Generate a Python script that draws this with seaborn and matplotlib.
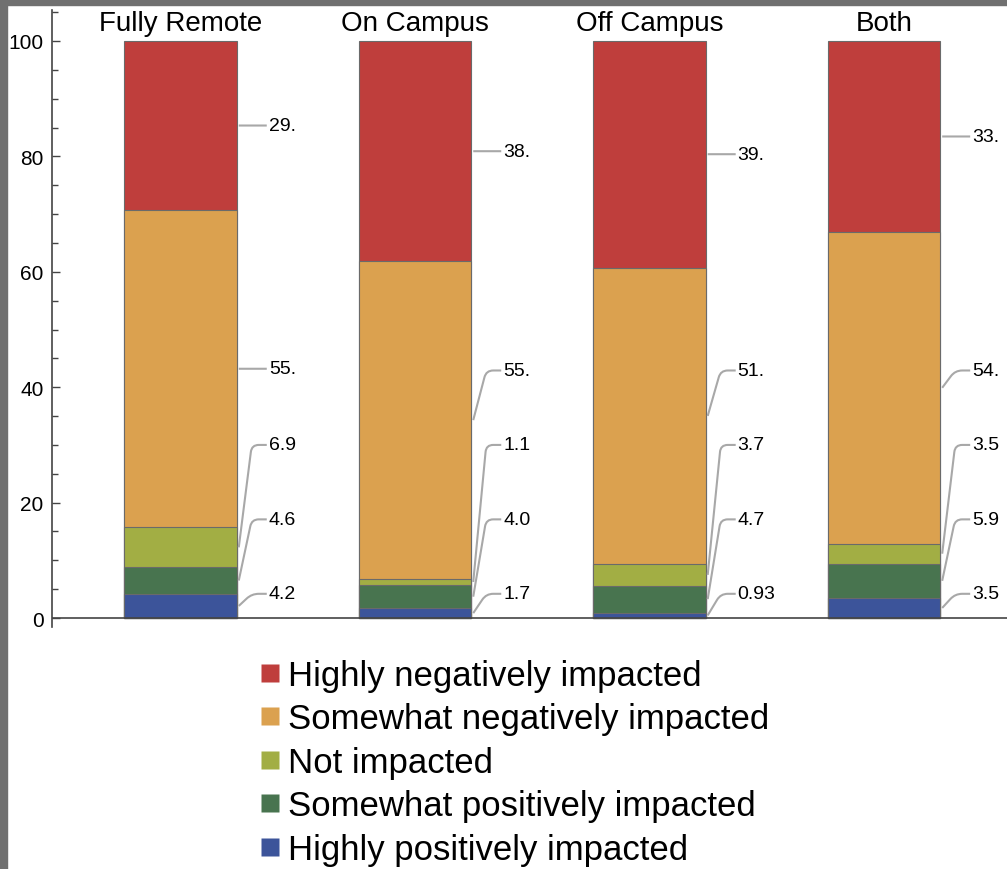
import numpy as np
import pandas as pd
import matplotlib
matplotlib.use("Agg")
import matplotlib.pyplot as plt
import seaborn as sns
from matplotlib.patches import Rectangle, PathPatch
from matplotlib.path import Path
from matplotlib.lines import Line2D
from matplotlib.ticker import MultipleLocator, FixedLocator

# ---------------- data ----------------
categories = ["Fully Remote", "On Campus", "Off Campus", "Both"]
series_names = ["Highly positively impacted", "Somewhat positively impacted",
                "Not impacted", "Somewhat negatively impacted",
                "Highly negatively impacted"]
highly_positive = [4.2, 1.7, 0.93, 3.5]
somewhat_positive = [4.6, 4.0, 4.7, 5.9]
not_impacted = [6.9, 1.1, 3.7, 3.5]
somewhat_negative = [55.0, 55.0, 51.4, 54.0]
highly_negative = [29.3, 38.2, 39.3, 33.1]
series_colors = ["#3C549A", "#48744F", "#A2AE44", "#DBA14F", "#BF3E3C"]
y_ticks = [0, 20, 40, 60, 80, 100]

values = np.array([highly_positive, somewhat_positive, not_impacted,
                   somewhat_negative, highly_negative])
cum = np.cumsum(values, axis=0)

sns.set_style("white")
plt.rcParams["font.family"] = ["Liberation Sans", "DejaVu Sans"]
plt.rcParams["text.color"] = "black"
plt.rcParams["ytick.labelcolor"] = "black"

W, H = 1007, 870
fig = plt.figure(figsize=(W / 100, H / 100), dpi=100)
ax = fig.add_axes([52 / W, 0.2785, 1 - 52 / W, 0.7084])

axis_col = "#444444"
# stacked bars: draw cumulative totals from the top series down
for k in reversed(range(len(series_names))):
    df = pd.DataFrame({"cat": categories, "val": cum[k]})
    sns.barplot(data=df, x="cat", y="val", order=categories, color=series_colors[k],
                saturation=1, width=0.48, edgecolor="#6a6a6a", linewidth=0.8,
                ax=ax, errorbar=None)

ax.set_xlim(-0.548, 3.525)
ax.set_ylim(-1.5, 105.3)
for s in ["top", "right", "bottom"]:
    ax.spines[s].set_visible(False)
ax.spines["left"].set_color(axis_col)
ax.spines["left"].set_linewidth(1.2)
ax.axhline(0, color=axis_col, lw=1.2, zorder=5)
ax.set_xticks([])
ax.set_xlabel("")
ax.set_ylabel("")
ax.yaxis.set_major_locator(FixedLocator(y_ticks))
ax.yaxis.set_minor_locator(MultipleLocator(5))
ax.set_yticklabels([str(t) for t in y_ticks])
ax.tick_params(axis="y", which="major", direction="in", length=6, width=1,
               color=axis_col, labelcolor="black", labelsize=15, pad=6, left=True)
ax.tick_params(axis="y", which="minor", direction="in", length=4, width=1,
               color=axis_col, left=True)

# category labels above bars
for i, c in enumerate(categories):
    ax.text(i, 103.2, c, ha="center", va="center", fontsize=20, color="black")


def fmt(v):
    if v >= 10:
        return f"{int(round(v))}."
    d = 1 - int(np.floor(np.log10(v)))
    return f"{v:.{d}f}"


# value labels with leader lines
min_label_y = 4.2
gap = 12.9
to_disp = ax.transData.transform
to_data = ax.transData.inverted().transform
bar_half = 0.24
for i in range(len(categories)):
    prev = None
    for k in range(len(series_names)):
        lo = cum[k - 1, i] if k > 0 else 0.0
        mid = (lo + cum[k, i]) / 2
        lab = max(mid, min_label_y) if prev is None else max(mid, prev + gap)
        prev = lab
        x0, ys = to_disp((i + bar_half, mid))
        _, yl = to_disp((i + bar_half, lab))
        S = np.array([x0 + 2, ys])
        C = np.array([x0 + 15, yl])
        E = np.array([x0 + 30, yl])
        dSC = np.linalg.norm(S - C)
        r = min(7, dSC / 2)
        P1 = C + (S - C) / dSC * r
        P2 = C + (E - C) / np.linalg.norm(E - C) * r
        pts = to_data(np.array([S, P1, C, P2, E]))
        path = Path(pts, [Path.MOVETO, Path.LINETO, Path.CURVE3, Path.CURVE3, Path.LINETO])
        ax.add_patch(PathPatch(path, facecolor="none", edgecolor="#a8a8a8", lw=1.5,
                               clip_on=False, zorder=4))
        tx, ty = to_data(np.array([[x0 + 32, yl]]))[0]
        ax.text(tx, ty, fmt(values[k, i]), ha="left", va="center", fontsize=14,
                color="black", clip_on=False)

# legend (top series first)
handles = [Line2D([0], [0], marker="s", linestyle="none", markersize=12.5,
                  markerfacecolor=series_colors[k], markeredgecolor="none")
           for k in reversed(range(len(series_names)))]
labels = [series_names[k] for k in reversed(range(len(series_names)))]
leg = fig.legend(handles, labels, loc="upper left", bbox_to_anchor=(260 / W, 1 - 660 / H),
                 frameon=False, fontsize=25, handlelength=0.55, handletextpad=0.25,
                 labelspacing=0.3, borderpad=0, borderaxespad=0)
for t in leg.get_texts():
    t.set_color("black")

# grey frame (left and top)
fig.patches.append(Rectangle((0, 0), 7 / W, 1, transform=fig.transFigure,
                             color="#707070", zorder=10))
fig.patches.append(Rectangle((0, 1 - 6 / H), 1, 6 / H, transform=fig.transFigure,
                             color="#707070", zorder=10))

fig.savefig("out.png", dpi=100)
